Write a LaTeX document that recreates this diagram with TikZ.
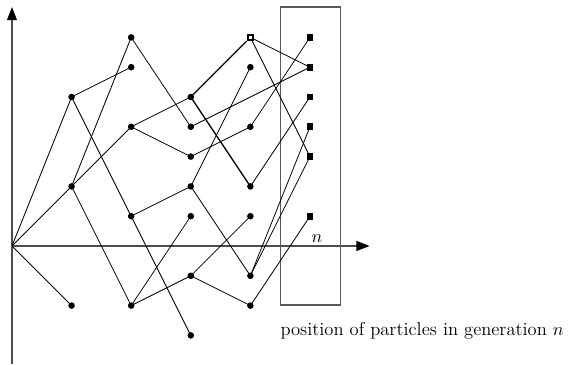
\documentclass[tikz,border=0pt]{standalone}
\usetikzlibrary{arrows.meta}
\tikzset{
  dot/.style={circle,fill=black,inner sep=0pt,minimum size=3.8pt},
  sq/.style={rectangle,fill=black,inner sep=0pt,minimum size=4.2pt},
  hsq/.style={rectangle,draw=black,line width=1pt,fill=white,inner sep=0pt,minimum size=3.6pt},
  axis/.style={draw=black!70,line width=0.8pt,-{Triangle[length=8pt,width=6pt,color=black]}},
  link/.style={draw=black,line width=0.5pt},
  blink/.style={draw=black,line width=0.8pt},
  frame/.style={draw=black!65,line width=0.7pt},
  lbl/.style={font=\fontsize{11.3}{13.5}\selectfont}
}
\begin{document}
\begin{tikzpicture}[x=36.34pt,y=18.17pt]
\useasboundingbox (-0.201,-3.96) rectangle (9.43,8.255);
% axes
\coordinate (O) at (0,0);
\coordinate (ybot) at (0,-3.96);
\coordinate (ytop) at (0,8.02);
\coordinate (xend) at (6,0);
\draw[axis] (ybot) -- (ytop);
\draw[axis] (O) -- (xend);
% frame
\node[frame,minimum width=36.34pt,minimum height=181.7pt,inner sep=0pt,anchor=south west] (box) at (4.5,-2) {};
\node[lbl,anchor=base,inner sep=0pt] (nlab) at (5.12,0.12) {$n$};
\node[lbl,anchor=west,inner sep=0pt] (cap) at (4.5,-2.85) {position of particles in generation $n$};
% nodes
\node[inner sep=0pt,minimum size=0pt] (o) at (0,0) {};
\node[dot] (g1a) at (1,5) {};
\node[dot] (g1b) at (1,2) {};
\node[dot] (g1c) at (1,-2) {};
\node[dot] (g2a) at (2,7) {};
\node[dot] (g2b) at (2,6) {};
\node[dot] (g2c) at (2,4) {};
\node[dot] (g2d) at (2,1) {};
\node[dot] (g2e) at (2,-2) {};
\node[dot] (g3a) at (3,5) {};
\node[dot] (g3b) at (3,4) {};
\node[dot] (g3c) at (3,3) {};
\node[dot] (g3d) at (3,2) {};
\node[dot] (g3e) at (3,1) {};
\node[dot] (g3f) at (3,-1) {};
\node[dot] (g3g) at (3,-3) {};
\node[hsq] (g4a) at (4,7) {};
\node[dot] (g4b) at (4,6) {};
\node[dot] (g4c) at (4,4) {};
\node[dot] (g4d) at (4,2) {};
\node[dot] (g4e) at (4,1) {};
\node[dot] (g4f) at (4,-1) {};
\node[dot] (g4g) at (4,-2) {};
\node[sq] (g5a) at (5,7) {};
\node[sq] (g5b) at (5,6) {};
\node[sq] (g5c) at (5,5) {};
\node[sq] (g5d) at (5,4) {};
\node[sq] (g5e) at (5,3) {};
\node[sq] (g5f) at (5,1) {};
% links
\draw[link] (o) -- (g1a.center);
\draw[link] (o) -- (g1b.center);
\draw[link] (o) -- (g1c.center);
\draw[link] (g1a.center) -- (g2b.center);
\draw[link] (g1a.center) -- (g2d.center);
\draw[link] (g1b.center) -- (g2a.center);
\draw[link] (g1b.center) -- (g2c.center);
\draw[link] (g1b.center) -- (g2e.center);
\draw[link] (g2a.center) -- (g3b.center);
\draw[link] (g2c.center) -- (g3a.center);
\draw[link] (g2c.center) -- (g3c.center);
\draw[link] (g2d.center) -- (g3d.center);
\draw[link] (g2d.center) -- (g3g.center);
\draw[link] (g2e.center) -- (g3e.center);
\draw[link] (g2e.center) -- (g3f.center);
\draw[blink] (g3a.center) -- (g4a);
\draw[blink] (g3a.center) -- (g4d.center);
\draw[link] (g3b.center) -- (g5b.center);
\draw[link] (g3c.center) -- (g4c.center);
\draw[link] (g3d.center) -- (g4b.center);
\draw[link] (g3d.center) -- (g4f.center);
\draw[link] (g3f.center) -- (g4e.center);
\draw[link] (g3f.center) -- (g4g.center);
\draw[link] (g4a) -- (g5b.center);
\draw[link] (g4a) -- (g5e.center);
\draw[link] (g4c.center) -- (g5a.center);
\draw[link] (g4d.center) -- (g5c.center);
\draw[link] (g4f.center) -- (g5d.center);
\draw[link] (g4f.center) -- (g5e.center);
\draw[link] (g4g.center) -- (g5f.center);
% redraw markers on top
\foreach \n in {g1a,g1b,g1c,g2a,g2b,g2c,g2d,g2e,g3a,g3b,g3c,g3d,g3e,g3f,g3g,g4b,g4c,g4d,g4e,g4f,g4g}
  \fill (\n.center) circle (1.9pt);
\foreach \n in {g5a,g5b,g5c,g5d,g5e,g5f}
  \fill ([shift={(-2.1pt,-2.1pt)}]\n.center) rectangle ([shift={(2.1pt,2.1pt)}]\n.center);
\draw[line width=1.3pt,fill=white] ([shift={(-1.6pt,-1.6pt)}]g4a.center) rectangle ([shift={(1.6pt,1.6pt)}]g4a.center);
\end{tikzpicture}
\end{document}
